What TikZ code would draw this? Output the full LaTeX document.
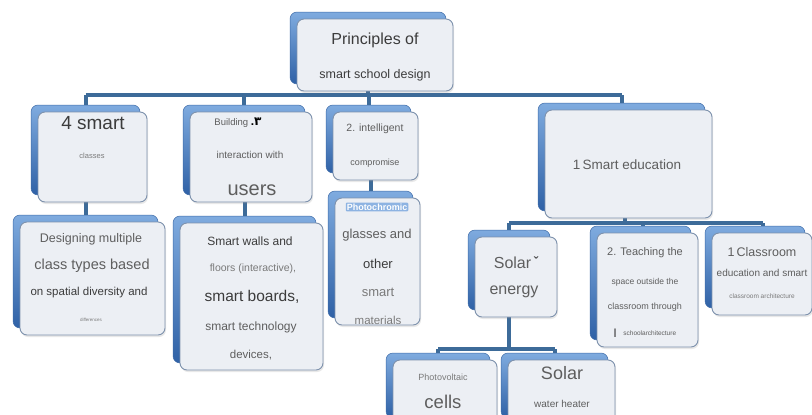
\documentclass[tikz,border=0pt]{standalone}
\usepackage{fontspec}
\setmainfont{Liberation Sans}
\newfontfamily\arabicfont[Script=Arabic]{DejaVu Sans}
\usetikzlibrary{shadows}
\pgfdeclarelayer{background}
\pgfsetlayers{background,main}
\definecolor{boxfill}{HTML}{ECEFF4}
\definecolor{boxline}{HTML}{7D91AC}
\definecolor{backtop}{HTML}{7FABDF}
\definecolor{backbot}{HTML}{2F61A6}
\definecolor{backedge}{HTML}{3E6BA8}
\definecolor{conncol}{HTML}{3D6B99}
\definecolor{txtA}{HTML}{3C3C3C}
\definecolor{txtB}{HTML}{5E5E5E}
\definecolor{txtC}{HTML}{7A7A7A}
\definecolor{photobg}{HTML}{8DB3E2}
\newcommand\fs[1]{\fontsize{#1}{#1}\selectfont}
\tikzset{
  face/.style={rectangle, rounded corners=7pt, draw=boxline, line width=0.9pt, fill=boxfill, inner sep=0pt,
    general shadow={shadow xshift=-7pt, shadow yshift=7pt, top color=backtop, bottom color=backbot, draw=backedge, line width=0.5pt},
    drop shadow={shadow xshift=1pt, shadow yshift=-2pt, opacity=0.18}},
  conn/.style={draw=conncol, line width=4pt},
  txt/.style={inner sep=0pt, text=txtB},
}
\newcommand\facebox[5]{\node[face, minimum width={(#4-#2)*1pt}, minimum height={(#5-#3)*1pt}] (#1) at ({(#2+#4)/2},{(#3+#5)/2}) {};}
\begin{document}
\begin{tikzpicture}[x=1pt,y=-1pt]
\useasboundingbox (0,0) rectangle (812,415);
\clip (0,0) rectangle (812,415);

\coordinate (barA) at (0,95);
\coordinate (barB) at (0,223);
\coordinate (barC) at (0,349);

\facebox{root}{297}{19}{453}{91}
\facebox{smartA}{38}{112}{147}{202}
\facebox{build}{190}{112}{312}{202}
\facebox{intel}{333}{112}{418}{180}
\facebox{smarted}{545}{110}{712}{218}
\facebox{design}{20}{222}{165}{335}
\facebox{walls}{180}{223}{323}{370}
\facebox{photo}{335}{198}{420}{325}
\facebox{solar}{475}{237}{557}{317}
\facebox{teach}{597}{233}{698}{347}
\facebox{classr}{712}{233}{812}{315}
\facebox{pv}{393}{360}{497}{425}
\facebox{swh}{508}{360}{615}{425}

\begin{pgfonlayer}{background}
\fill[white] (0,0) rectangle (812,415);
% top level
\draw[conn] ([xshift=-7pt]root.south) -- ([xshift=-7pt]root.south |- barA);
\draw[conn] ([xshift=-7pt]smartA.north |- barA) -- ([xshift=-7pt]smarted.north |- barA);
\draw[conn] ([xshift=-7pt]smartA.north |- barA) -- ([xshift=-7pt,yshift=7pt]smartA.north);
\draw[conn] ([xshift=-7pt]build.north |- barA) -- ([xshift=-7pt,yshift=7pt]build.north);
\draw[conn] ([xshift=-7pt]intel.north |- barA) -- ([xshift=-7pt,yshift=7pt]intel.north);
\draw[conn] ([xshift=-7pt]smarted.north |- barA) -- ([xshift=-7pt,yshift=7pt]smarted.north);
% second level
\draw[conn] ([xshift=-7pt]smartA.south) -- ([xshift=-7pt,yshift=7pt]design.north);
\draw[conn] ([xshift=-7pt]walls.north |- build.south) -- ([xshift=-7pt,yshift=7pt]walls.north);
\draw[conn] ([xshift=-7pt]photo.north |- intel.south) -- ([xshift=-7pt,yshift=7pt]photo.north);
\draw[conn] ([xshift=-4pt]smarted.south) -- ([xshift=-4pt]smarted.south |- barB);
\draw[conn] ([xshift=-7pt]solar.north |- barB) -- ([xshift=1pt]classr.north |- barB);
\draw[conn] ([xshift=-7pt]solar.north |- barB) -- ([xshift=-7pt,yshift=7pt]solar.north);
\draw[conn] ([xshift=-5pt]teach.north |- barB) -- ([xshift=-5pt,yshift=7pt]teach.north);
\draw[conn] ([xshift=1pt]classr.north |- barB) -- ([xshift=1pt,yshift=7pt]classr.north);
% third level
\draw[conn] ([xshift=-7pt]solar.south) -- ([xshift=-7pt]solar.south |- barC);
\draw[conn] ([xshift=-7pt]pv.north |- barC) -- ([xshift=-7pt]swh.north |- barC);
\draw[conn] ([xshift=-7pt]pv.north |- barC) -- ([xshift=-7pt,yshift=7pt]pv.north);
\draw[conn] ([xshift=-7pt]swh.north |- barC) -- ([xshift=-7pt,yshift=7pt]swh.north);
\end{pgfonlayer}

% texts
\node[txt, text=txtA, font=\fs{16}] (r1) at (375,40) {Principles of};
\node[txt, text=txtA, font=\fs{12.5}] (r2) at (375,75) {smart school design};

\node[txt, text=txtA, font=\fs{19}] (a1) at (93,123) {4 smart};
\node[txt, text=txtC, font=\fs{7.5}] (a2) at (92,156) {classes};

\node[txt, font=\fs{9.5}] (b1) at (238,123) {Building \textcolor{black}{\bfseries\fs{12}.{\arabicfont ۳}}};
\node[txt, font=\fs{10}] (b2) at (250,155) {interaction with};
\node[txt, font=\fs{20}] (b3) at (252,190) {users};

\node[txt, font=\fs{10.5}] (c1) at (375,129) {2. intelligent};
\node[txt, font=\fs{9}] (c2) at (375,163) {compromise};

\node[txt, font=\fs{13.5}] (d1) at (627,165) {1\,Smart education};

\node[txt, font=\fs{12.5}] (e1) at (91,239) {Designing multiple};
\node[txt, font=\fs{14.5}] (e2) at (92,266) {class types based};
\node[txt, text=txtA, font=\fs{11.5}] (e3) at (89,293) {on spatial diversity and};
\node[txt, text=txtC, font=\fs{4.5}] (e4) at (91,320) {differences};

\node[txt, text=txtA, font=\fs{12}] (f1) at (250,241) {Smart walls and};
\node[txt, text=txtC, font=\fs{10.5}] (f2) at (253,269) {floors (interactive),};
\node[txt, text=txtA, font=\fs{15.5}] (f3) at (252,297) {smart boards,};
\node[txt, font=\fs{12}] (f4) at (251,327) {smart technology};
\node[txt, font=\fs{11.5}] (f5) at (251,355) {devices,};

\node[txt, fill=photobg, text=white, font=\bfseries\fs{9}, inner sep=1pt, rounded corners=1pt] (g1) at (377,207) {Photochromic};
\node[txt, font=\fs{13}] (g2) at (377,235) {glasses and};
\node[txt, text=txtA, font=\fs{13}] (g3) at (378,264) {other};
\node[txt, text=txtC, font=\fs{13}] (g4) at (378,292) {smart};
\node[txt, text=txtC, font=\fs{11.5}] (g5) at (378,320) {materials};

\node[txt, font=\fs{16}] (h1) at (516,263) {Solar\,\raisebox{2pt}{\textcolor{txtA}{\bfseries\fs{13}ˇ}}};
\node[txt, font=\fs{16}] (h2) at (514,292) {energy};

\node[txt, font=\fs{11}] (i1) at (645,253) {2. Teaching the};
\node[txt, font=\fs{8.5}] (i2) at (645,282) {space outside the};
\node[txt, font=\fs{9}] (i3) at (645,307) {classroom through};
\node[txt, font=\fs{6.5}] (i4) at (645,333) {\textcolor{txtA}{\bfseries\fs{9}|}\hspace{7pt}schoolarchitecture};

\node[txt, font=\fs{12.5}] (j1) at (762,252) {1\,Classroom};
\node[txt, font=\fs{10}] (j2) at (762,273) {education and smart};
\node[txt, text=txtC, font=\fs{6.5}] (j3) at (762,296) {classroom architecture};

\node[txt, text=txtC, font=\fs{9}] (k1) at (443,377) {Photovoltaic};
\node[txt, font=\fs{18.5}] (k2) at (443,402) {cells};

\node[txt, font=\fs{18}] (l1) at (562,373) {Solar};
\node[txt, font=\fs{10}] (l2) at (562,404) {water heater};
\end{tikzpicture}
\end{document}
